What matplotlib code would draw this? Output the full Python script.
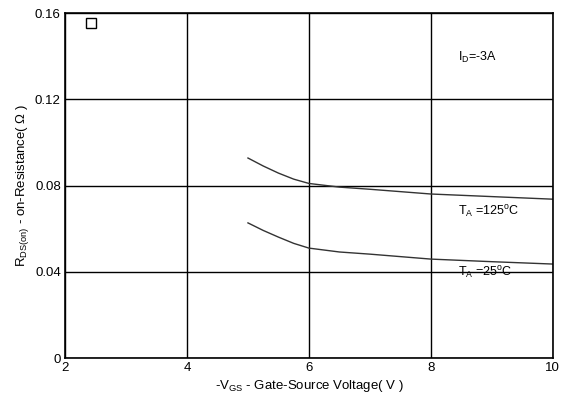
import matplotlib
matplotlib.use('Agg')
import matplotlib.pyplot as plt

# datos
vgs = [5.0, 5.25, 5.5, 5.75, 6.0, 6.5, 7.0, 8.0, 9.0, 10.0]
rds_125 = [0.0928, 0.0891, 0.0858, 0.0830, 0.0810, 0.0793, 0.0783, 0.0761, 0.0749, 0.0737]
rds_25 = [0.0627, 0.0592, 0.0561, 0.0532, 0.0510, 0.0492, 0.0482, 0.0459, 0.0447, 0.0436]
x_ticks = [2, 4, 6, 8, 10]
y_ticks = [0, 0.04, 0.08, 0.12, 0.16]
y_tick_labels = ["0", "0.04", "0.08", "0.12", "0.16"]

plt.rcParams['font.family'] = ['Liberation Sans', 'DejaVu Sans']
plt.rcParams['mathtext.fontset'] = 'custom'
plt.rcParams['mathtext.rm'] = 'Liberation Sans'

fig = plt.figure(figsize=(5.63, 4.12), dpi=100)
ax = fig.add_axes([0.1155, 0.131, 0.8665, 0.837])

ax.plot(vgs, rds_125, color="#333333", linewidth=1.0)
ax.plot(vgs, rds_25, color="#333333", linewidth=1.0)

ax.set_xlim(2, 10)
ax.set_ylim(0, 0.16)
ax.set_xticks(x_ticks)
ax.set_yticks(y_ticks)
ax.set_yticklabels(y_tick_labels)
ax.grid(True, color="black", linewidth=1.0)
for s in ax.spines.values():
    s.set_linewidth(1.2)
ax.tick_params(length=0, labelsize=9.5, pad=3)

# marcador cuadrado vacio arriba a la izquierda
ax.plot([2.43], [0.1555], marker="s", markersize=7, markerfacecolor="white",
        markeredgecolor="black", markeredgewidth=1.0, linestyle="none")

ax.text(8.45, 0.1395, r"I$_{\mathregular{D}}$=-3A", fontsize=9, va="center")
ax.text(8.45, 0.068, r"T$_{\mathregular{A}}$ =125$^{\mathregular{o}}$C", fontsize=9, va="center")
ax.text(8.45, 0.0395, r"T$_{\mathregular{A}}$ =25$^{\mathregular{o}}$C", fontsize=9, va="center")

ax.set_xlabel(r"-V$_{\mathregular{GS}}$ - Gate-Source Voltage( V )", fontsize=9.5, labelpad=3)
ax.set_ylabel(r"R$_{\mathregular{DS(on)}}$ - on-Resistance( Ω )", fontsize=9.5, labelpad=3)

fig.savefig("out.png", dpi=100)
